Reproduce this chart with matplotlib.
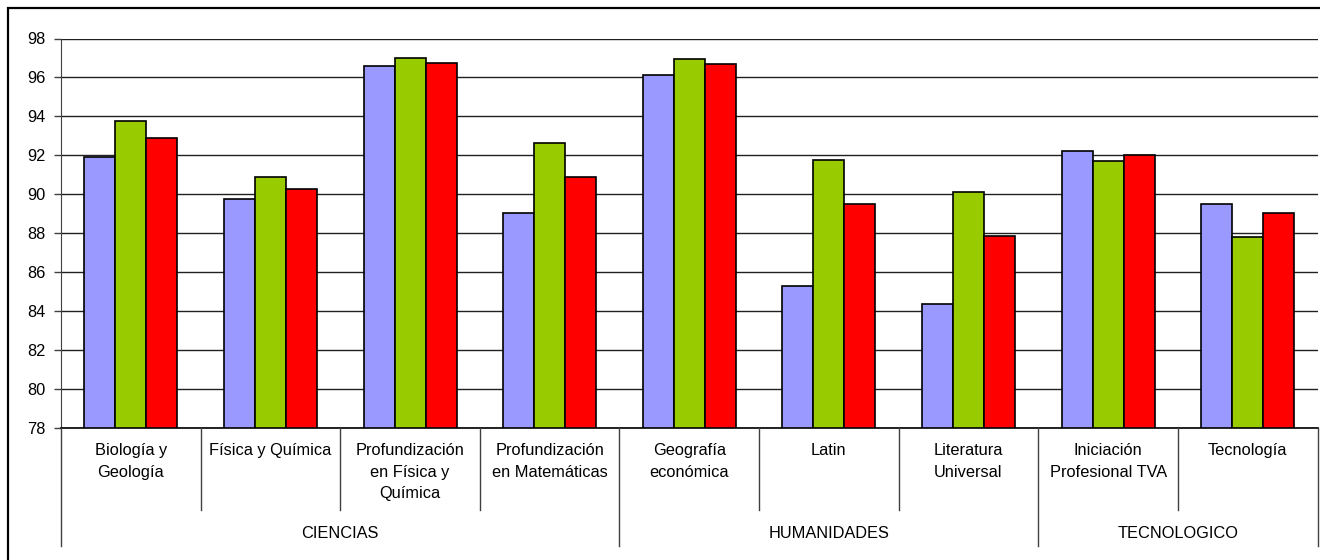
import matplotlib
matplotlib.use("Agg")
import matplotlib.pyplot as plt
from matplotlib.lines import Line2D
from matplotlib.patches import Rectangle
import numpy as np

plt.rcParams['font.family'] = ['Liberation Sans', 'DejaVu Sans']

categories = ["Biología y\nGeología", "Física y Química", "Profundización\nen Física y\nQuímica",
              "Profundización\nen Matemáticas", "Geografía\neconómica", "Latin",
              "Literatura\nUniversal", "Iniciación\nProfesional TVA", "Tecnología"]
groups = ["CIENCIAS", "HUMANIDADES", "TECNOLOGICO"]
group_sizes = [4, 3, 2]

serie_1 = [91.94, 89.75, 96.59, 89.06, 96.11, 85.32, 84.38, 92.23, 89.52]
serie_2 = [93.78, 90.91, 96.99, 92.62, 96.96, 91.77, 90.12, 91.70, 87.83]
serie_3 = [92.88, 90.28, 96.76, 90.91, 96.69, 89.52, 87.88, 92.01, 89.06]
colors = ["#9999FF", "#99CC00", "#FF0000"]

yticks = list(range(78, 99, 2))

W, H = 1320, 560
fig = plt.figure(figsize=(W / 100, H / 100), dpi=100)
x0, x1 = 61, 1317.5
ytop, ybot = 38.5, 428.3
ax = fig.add_axes([x0 / W, (H - ybot) / H, (x1 - x0) / W, (ybot - ytop) / H])

FS = 11.8

n = len(categories)
x = np.arange(n)
bw = 0.222
for i, (vals, c) in enumerate(zip([serie_1, serie_2, serie_3], colors)):
    ax.bar(x + (i - 1) * bw, [v - 78 for v in vals], bottom=78, width=bw,
           color=c, edgecolor="black", linewidth=1.2, zorder=3)

ax.set_xlim(-0.5, n - 0.5)
ax.set_ylim(78, 98)
ax.set_yticks(yticks)
ax.yaxis.grid(True, color="#202020", linewidth=1.0, zorder=0)
ax.set_axisbelow(True)
ax.set_xticks([])
ax.tick_params(axis="y", length=5, width=1, color="#404040", pad=6, labelsize=FS)
for s in ["top", "right"]:
    ax.spines[s].set_visible(False)
ax.spines["left"].set_color("#404040")
ax.spines["bottom"].set_color("black")
ax.spines["bottom"].set_linewidth(1.2)


def fx(px):
    return px / W


def fy(py):
    return (H - py) / H


cat_w = (x1 - x0) / n
for i, lab in enumerate(categories):
    cx = x0 + (i + 0.5) * cat_w
    fig.text(fx(cx), fy(443), lab, ha="center", va="top", fontsize=FS,
             linespacing=1.55)

boundaries = np.cumsum([0] + group_sizes)
for b in range(n + 1):
    bx = x0 + b * cat_w
    end = 546 if b in boundaries else 510
    fig.add_artist(Line2D([fx(bx), fx(bx)], [fy(428.3), fy(end)],
                          color="#404040", linewidth=1.0))

for g, lab in enumerate(groups):
    cx = x0 + (boundaries[g] + boundaries[g + 1]) / 2 * cat_w
    fig.text(fx(cx), fy(533), lab, ha="center", va="center", fontsize=FS)

# outer frame (right and bottom edges fall outside the image)
fig.add_artist(Rectangle((fx(8), fy(H + 10)), fx(W + 20), fy(7.5) - fy(H + 10),
                         fill=False, edgecolor="black", linewidth=1.6,
                         transform=fig.transFigure))

fig.savefig("out.png", dpi=100)
